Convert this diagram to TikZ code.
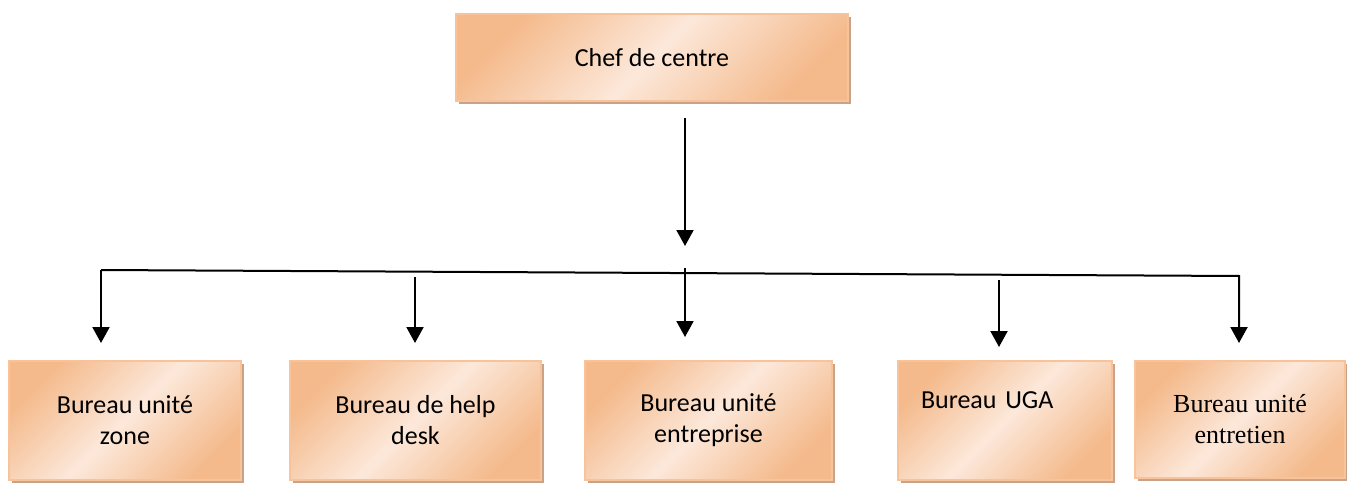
\documentclass[tikz,border=0pt]{standalone}
\usepackage{fontspec}
\setmainfont{Carlito}
\newfontfamily\timesfont{Liberation Serif}
\usetikzlibrary{arrows.meta,shadows}
\definecolor{peach}{HTML}{F4BA8C}
\definecolor{peachlight}{HTML}{FCE8DA}
\definecolor{peachline}{HTML}{F8C39B}
\definecolor{peachshadow}{HTML}{C9A287}
\tikzset{
	unitbox/.style={draw=peachline,line width=2pt,left color=peach,right color=peach,middle color=peachlight,shading angle=45,
		drop shadow={shadow xshift=3pt,shadow yshift=-3pt,fill=peachshadow,opacity=1},
		inner sep=0pt,align=center,font=\fontsize{26}{31}\selectfont},
	link/.style={line width=2pt,-{Triangle[width=17pt,length=16pt]}}
}
\begin{document}
\begin{tikzpicture}[x=1pt,y=-1pt]
	\useasboundingbox (0,0) rectangle (1347,484);
	\node[unitbox,minimum width=392pt,minimum height=87pt] (chef) at (652,57.5){Chef de centre};
	\node[unitbox,minimum width=232pt,minimum height=119pt] (zone) at (125,420.5){Bureau unité\\zone};
	\node[unitbox,minimum width=251pt,minimum height=119pt] (help) at (415.5,420.5){Bureau de help\\desk};
	\node[unitbox,minimum width=247pt,minimum height=119pt] (entreprise) at (708.5,420.5){Bureau unité\\entreprise};
	\node[unitbox,minimum width=214pt,minimum height=119pt,text width=168pt,align=left] (uga) at (1005,420.5){Bureau UGA\\\strut};
	\node[unitbox,minimum width=210pt,minimum height=117pt,font=\fontsize{26}{31}\timesfont] (entretien) at (1240,419.5){Bureau unité\\entretien};
	% liaisons
	\coordinate (c1) at (685,118);
	\coordinate (c2) at (685,246);
	\coordinate (g) at (101,270);
	\coordinate (d) at (1239,276);
	\coordinate (h2) at (415,277);
	\coordinate (h3) at (685,268);
	\coordinate (h4) at (999,280);
	\draw[link] (c1)--(c2);
	\draw[link] (g)--(d)--(1239,343);
	\draw[link] (g)--(101,343);
	\draw[link] (h2)--(415,343);
	\draw[link] (h3)--(685,337);
	\draw[link] (h4)--(999,347);
\end{tikzpicture}
\end{document}
